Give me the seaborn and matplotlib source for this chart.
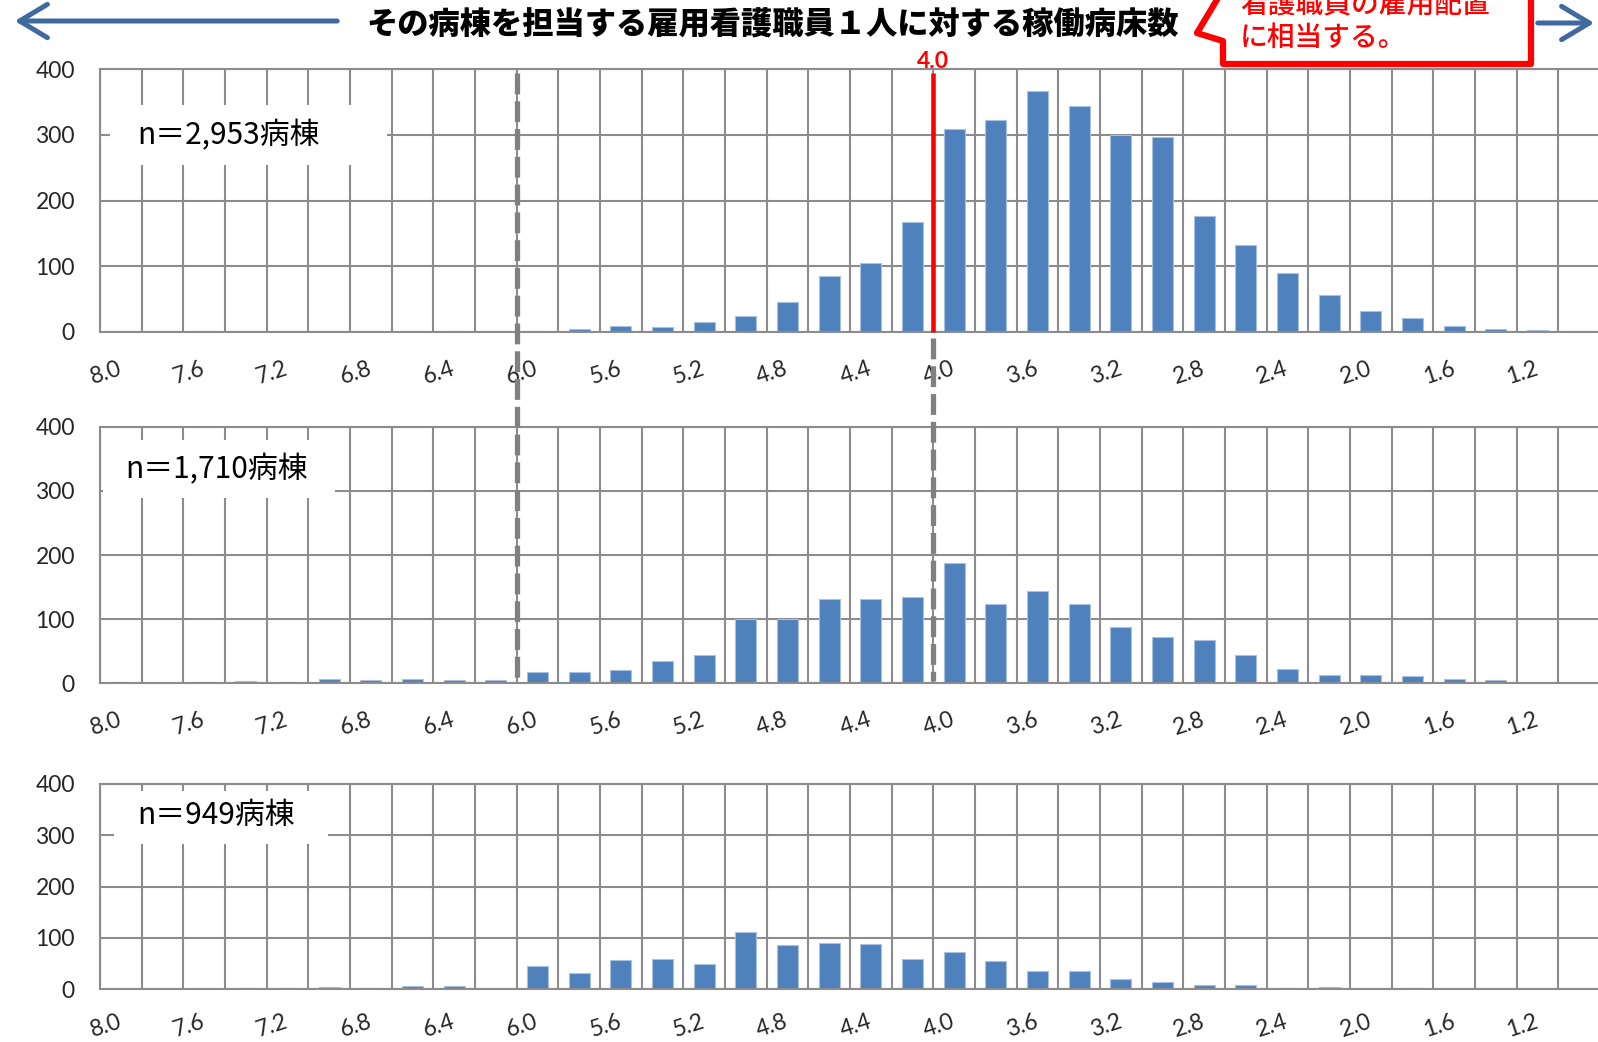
import numpy as np
import pandas as pd
import matplotlib
matplotlib.use("Agg")
import matplotlib.pyplot as plt
import seaborn as sns
from matplotlib.lines import Line2D
from matplotlib.patches import Rectangle, Polygon, FancyArrowPatch

# ---------------- data ----------------
categories = ["8.0", "7.8", "7.6", "7.4", "7.2", "7.0", "6.8", "6.6", "6.4", "6.2",
              "6.0", "5.8", "5.6", "5.4", "5.2", "5.0", "4.8", "4.6", "4.4", "4.2",
              "4.0", "3.8", "3.6", "3.4", "3.2", "3.0", "2.8", "2.6", "2.4", "2.2",
              "2.0", "1.8", "1.6", "1.4", "1.2", "1.0"]

counts_top = [0, 0, 1, 0, 0, 0, 0, 0, 1, 0,
              1, 4, 9, 8, 15, 25, 45, 85, 105, 168,
              308, 323, 366, 343, 299, 296, 177, 133, 90, 56,
              32, 21, 9, 5, 3, 2]

counts_mid = [1, 0, 1, 3, 1, 7, 5, 6, 5, 4,
              17, 17, 20, 35, 43, 100, 100, 132, 132, 134,
              187, 124, 143, 123, 87, 72, 67, 43, 22, 12,
              13, 11, 7, 4, 0, 0]

counts_bot = [0, 0, 0, 1, 1, 4, 1, 5, 5, 0,
              44, 31, 57, 59, 49, 111, 85, 89, 87, 59,
              72, 54, 35, 35, 20, 14, 7, 8, 1, 4,
              0, 1, 0, 0, 0, 0]

panel_labels = ["n＝2,953病棟", "n＝1,710病棟", "n＝949病棟"]
y_ticks = [0, 100, 200, 300, 400]
shown_labels = categories[::2]

title_text = "その病棟を担当する雇用看護職員１人に対する稼働病床数"
callout_lines = ["看護職員の雇用配置", "に相当する。"]
marker_label = "4.0"

# ---------------- layout helpers ----------------
W, H = 1598, 1042
plt.rcParams["lines.scale_dashes"] = False
sns.set_style("white")
plt.rcParams["font.family"] = ["Lato", "Noto Sans CJK JP", "DejaVu Sans"]
CJK = ["Noto Sans CJK JP", "DejaVu Sans"]

fig = plt.figure(figsize=(W / 100, H / 100), dpi=100)


def fx(px):
    return px / W


def fy(py):
    return 1 - py / H


grid_c = "#8c8c8c"
bar_c = "#4F81BD"

panel_px = [(69, 332), (427, 683), (784, 989)]   # (top, bottom) in pixels
box_px = [(110, 105, 387, 165), (103, 440, 335, 498), (114, 791, 328, 844)]
text_px = [(228, 136), (217, 470), (216, 815)]
label_pad = [26, 26, 23]
series = [counts_top, counts_mid, counts_bot]

axes = []
for i, (top, bot) in enumerate(panel_px):
    ax = fig.add_axes([fx(100), fy(bot), fx(1600) - fx(100), (bot - top) / H])
    df = pd.DataFrame({"cat": categories, "n": series[i]})
    sns.barplot(data=df, x="cat", y="n", order=categories, color=bar_c,
                saturation=1, width=0.5, edgecolor="#A8C1E0", linewidth=0.8, ax=ax)
    ax.set_xlim(-0.5, len(categories) - 0.5)
    ax.set_ylim(0, 400)
    ax.set_yticks(y_ticks)
    ax.set_yticklabels([str(v) for v in y_ticks], fontsize=16.5, family="Lato")
    ax.set_xticks(range(0, len(categories), 2))
    ax.set_xticklabels(shown_labels, rotation=18, rotation_mode="anchor",
                       ha="right", va="center", fontsize=16.5, family="Lato")
    ax.set_xticks(np.arange(-0.5, len(categories), 1), minor=True)
    ax.tick_params(axis="x", which="major", length=0, pad=label_pad[i])
    ax.tick_params(axis="x", which="minor", length=6, width=1.5, color=grid_c,
                   direction="out")
    ax.tick_params(axis="y", which="major", length=5, width=1.5, color=grid_c,
                   direction="out", pad=13)
    ax.set_axisbelow(True)
    ax.grid(False)
    ax.grid(which="minor", axis="x", color=grid_c, lw=1.5)
    ax.grid(which="major", axis="y", color=grid_c, lw=1.5)
    for s in ["left", "bottom", "top"]:
        ax.spines[s].set_visible(True)
        ax.spines[s].set_color(grid_c)
        ax.spines[s].set_linewidth(1.5)
    ax.spines["right"].set_visible(False)
    ax.set_xlabel("")
    ax.set_ylabel("")

    x0, y0, x1, y1 = box_px[i]
    ax.add_patch(Rectangle((fx(x0), fy(y1)), fx(x1) - fx(x0), (y1 - y0) / H,
                           transform=fig.transFigure, facecolor="white",
                           edgecolor="none", zorder=1.5))
    ax.text(fx(text_px[i][0]), fy(text_px[i][1]), panel_labels[i],
            transform=fig.transFigure, ha="center", va="center",
            fontsize=21.5, family=CJK, color="black", zorder=3)
    axes.append(ax)

# ---------------- reference lines ----------------
ax_top = axes[0]
i40 = categories.index("4.0") - 0.5
i60 = categories.index("6.0") - 0.5
ax_top.plot([i40, i40], [0, 394], color="#FF0000", lw=3.3, zorder=5,
            solid_capstyle="butt", clip_on=False)


def data_x_to_fig(ax, xv):
    disp = ax.transData.transform((xv, 0))
    return fig.transFigure.inverted().transform(disp)[0]


xf60 = data_x_to_fig(ax_top, i60)
xf40 = data_x_to_fig(ax_top, i40)
for xf, ytop in [(xf60, 73), (xf40, 338)]:
    fig.add_artist(Line2D([xf, xf], [fy(ytop), fy(681)], transform=fig.transFigure,
                          color="#808080", lw=3.8, dashes=(15, 5), zorder=10))

fig.text(xf40, fy(61), marker_label, ha="center", va="center", color="#FF0000",
         fontsize=16.5, fontweight="bold", family="Lato")

# ---------------- title & arrows ----------------
fig.text(fx(773), fy(25), title_text, ha="center", va="center", fontsize=22.5,
         fontweight="black", family=CJK, color="black")

arrow_c = "#3E6AA0"
fig.add_artist(FancyArrowPatch(posA=(fx(340), fy(21)), posB=(fx(12), fy(21)),
                               transform=fig.transFigure, arrowstyle="->,head_length=1.0,head_width=0.6",
                               mutation_scale=20, color=arrow_c, lw=3.6))
fig.add_artist(FancyArrowPatch(posA=(fx(1535), fy(23)), posB=(fx(1597), fy(23)),
                               transform=fig.transFigure, arrowstyle="->,head_length=1.0,head_width=0.6",
                               mutation_scale=20, color=arrow_c, lw=3.6))

# ---------------- callout ----------------
pts = [(1224, -12), (1197, 33), (1223, 41), (1223, 64), (1531, 64), (1531, -12)]
fig.add_artist(Polygon([(fx(a), fy(b)) for a, b in pts], closed=True,
                       transform=fig.transFigure, facecolor="white",
                       edgecolor="#FF0000", lw=4.5, joinstyle="round", zorder=11))
fig.text(fx(1240), fy(5), callout_lines[0], ha="left", va="center", color="#FF0000",
         fontsize=20, fontweight="medium", family=CJK, zorder=12)
fig.text(fx(1240), fy(37), callout_lines[1], ha="left", va="center", color="#FF0000",
         fontsize=20, fontweight="medium", family=CJK, zorder=12)

fig.savefig("out.png", dpi=100)
